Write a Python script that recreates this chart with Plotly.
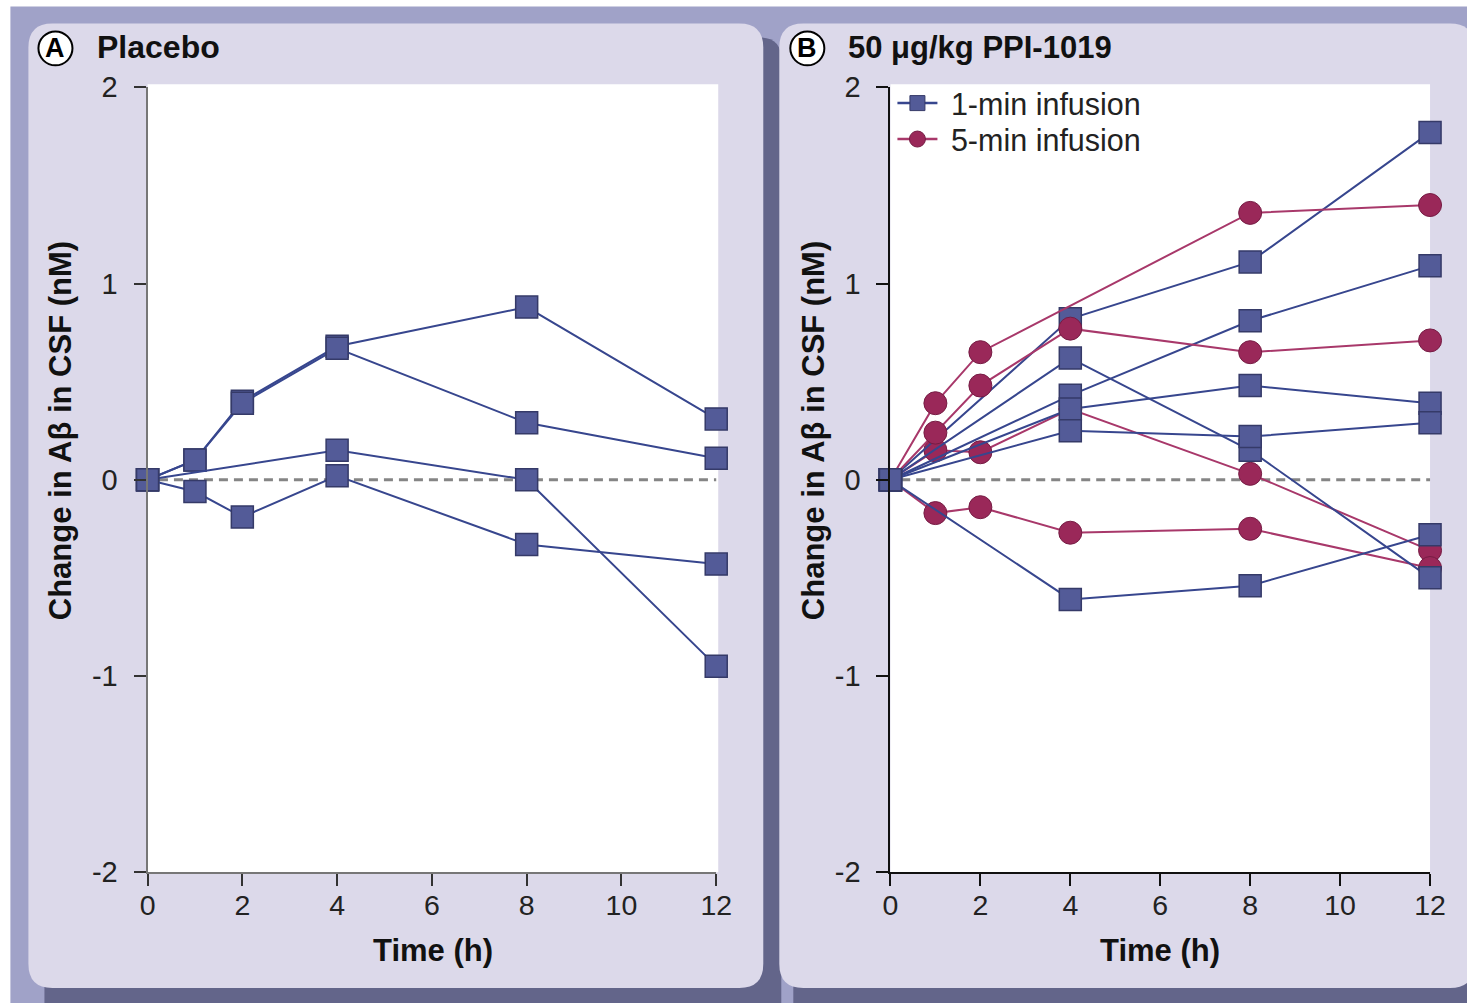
import plotly.graph_objects as go

# ---------------- data ----------------
times = [0, 1, 2, 4, 8, 12]
time_ticks = [0, 2, 4, 6, 8, 10, 12]
y_ticks = [-2, -1, 0, 1, 2]

placebo_1 = [0, 0.10, 0.40, 0.68, 0.88, 0.31]
placebo_2 = [0, 0.10, 0.39, 0.67, 0.29, 0.11]
placebo_3 = [0, None, None, 0.15, 0.00, -0.95]
placebo_4 = [0, -0.06, -0.19, 0.02, -0.33, -0.43]

min1_a = [0, None, None, 0.82, 1.11, 1.77]
min1_b = [0, None, None, 0.62, 0.15, -0.50]
min1_c = [0, None, None, 0.43, 0.81, 1.09]
min1_d = [0, None, None, 0.36, 0.48, 0.39]
min1_e = [0, None, None, 0.25, 0.22, 0.29]
min1_f = [0, None, None, -0.61, -0.54, -0.28]

min5_a = [0, 0.39, 0.65, None, 1.36, 1.40]
min5_b = [0, 0.24, 0.48, 0.77, 0.65, 0.71]
min5_c = [0, 0.15, 0.14, 0.36, 0.03, -0.36]
min5_d = [0, -0.17, -0.14, -0.27, -0.25, -0.45]

placebo_series = [placebo_1, placebo_2, placebo_3, placebo_4]
min1_series = [min1_a, min1_b, min1_c, min1_d, min1_e, min1_f]
min5_series = [min5_a, min5_b, min5_c, min5_d]

# ---------------- styling ----------------
W, H = 1467, 1003
FONT = "Liberation Sans, Arial, Helvetica, sans-serif"
BLUE_LINE = "#37468e"
BLUE_FILL = "#535b98"
BLUE_EDGE = "#353a68"
RED_LINE = "#a8386a"
RED_FILL = "#9a2859"
RED_EDGE = "#761c44"
PANEL = "#dcd9ea"
FRAME = "#a0a2c8"
SHADOW = "#63658a"

# layout positions are given in photographed-page pixels; the photographed page
# shows the figure slightly shrunk and offset, so convert to figure pixels
SX, OX = 0.9825, 7.6
SY, OY = 0.9695, 14.6


def px(X):
    return (X - OX) / SX / W


def py(Y):
    return 1 - (Y - OY) / SY / H


def P(X, Y):
    return f"{px(X):.5f},{py(Y):.5f}"


def rrect(x0, y0, x1, y1, r):
    return (f"M {P(x0 + r, y0)} L {P(x1 - r, y0)} Q {P(x1, y0)} {P(x1, y0 + r)} "
            f"L {P(x1, y1 - r)} Q {P(x1, y1)} {P(x1 - r, y1)} "
            f"L {P(x0 + r, y1)} Q {P(x0, y1)} {P(x0, y1 - r)} "
            f"L {P(x0, y0 + r)} Q {P(x0, y0)} {P(x0 + r, y0)} Z")


fig = go.Figure()

blue_marker = dict(symbol="square", size=22, color=BLUE_FILL, opacity=1,
                   line=dict(color=BLUE_EDGE, width=1.5))


def red_marker(ys):
    sizes = [0 if i == 0 else 23 for i in range(len(ys))]
    return dict(symbol="circle", size=sizes, color=RED_FILL, opacity=1,
                line=dict(color=RED_EDGE, width=1))


for ys in placebo_series:
    fig.add_trace(go.Scatter(x=times, y=ys, mode="lines+markers", connectgaps=True,
                             line=dict(color=BLUE_LINE, width=2), marker=blue_marker,
                             showlegend=False, cliponaxis=False, xaxis="x", yaxis="y"))

order_b = [("r", min5_c), ("r", min5_d)] + [("b", s) for s in min1_series] + [("r", min5_a), ("r", min5_b)]
for kind, ys in order_b:
    if kind == "b":
        fig.add_trace(go.Scatter(x=times, y=ys, mode="lines+markers", connectgaps=True,
                                 line=dict(color=BLUE_LINE, width=2), marker=blue_marker,
                                 showlegend=False, cliponaxis=False, xaxis="x2", yaxis="y2"))
    else:
        fig.add_trace(go.Scatter(x=times, y=ys, mode="lines+markers", connectgaps=True,
                                 line=dict(color=RED_LINE, width=2), marker=red_marker(ys),
                                 showlegend=False, cliponaxis=False, xaxis="x2", yaxis="y2"))

fig.add_trace(go.Scatter(x=[times[0]], y=[min1_a[0]], mode="markers", marker=blue_marker,
                         showlegend=False, cliponaxis=False, xaxis="x2", yaxis="y2"))

fig.add_trace(go.Scatter(x=[None], y=[None], mode="lines+markers", name="\u00a01-min infusion",
                         line=dict(color=BLUE_LINE, width=2.5), legend="legend",
                         marker=dict(symbol="square", size=15, color=BLUE_FILL,
                                     line=dict(color=BLUE_EDGE, width=1)),
                         xaxis="x2", yaxis="y2"))
fig.add_trace(go.Scatter(x=[None], y=[None], mode="lines+markers", name="\u00a05-min infusion",
                         line=dict(color=RED_LINE, width=2.5), legend="legend2",
                         marker=dict(symbol="circle", size=16, color=RED_FILL,
                                     line=dict(color=RED_EDGE, width=1)),
                         xaxis="x2", yaxis="y2"))

# ---------------- background shapes ----------------
shapes = []
shapes.append(dict(type="rect", xref="paper", yref="paper", x0=px(10), x1=px(1480), y0=py(1015), y1=py(5),
                   fillcolor=FRAME, line=dict(width=0), layer="below"))
# shadows
shapes.append(dict(type="path", xref="paper", yref="paper", path=rrect(44, 36, 780, 1030, 22),
                   fillcolor=SHADOW, line=dict(width=0), layer="below"))
shapes.append(dict(type="path", xref="paper", yref="paper", path=rrect(792, 36, 1500, 1030, 22),
                   fillcolor=SHADOW, line=dict(width=0), layer="below"))
# panels
shapes.append(dict(type="path", xref="paper", yref="paper", path=rrect(28, 22, 762, 988, 24),
                   fillcolor=PANEL, line=dict(width=0), layer="below"))
shapes.append(dict(type="path", xref="paper", yref="paper", path=rrect(778, 22, 1472, 988, 24),
                   fillcolor=PANEL, line=dict(width=0), layer="below"))
# white plot areas
shapes.append(dict(type="rect", xref="paper", yref="paper", x0=px(147), x1=px(717), y0=py(872), y1=py(83),
                   fillcolor="white", line=dict(width=0), layer="below"))
shapes.append(dict(type="rect", xref="paper", yref="paper", x0=px(889), x1=px(1428), y0=py(872), y1=py(83),
                   fillcolor="white", line=dict(width=0), layer="below"))
for xr, yr in (("x", "y"), ("x2", "y2")):
    shapes.append(dict(type="line", xref=f"{xr} domain", yref=yr, x0=0.02, x1=1, y0=0, y1=0,
                       line=dict(color="#858585", width=3, dash="9px,6px"), layer="below"))
for cx in (55, 806):
    shapes.append(dict(type="circle", xref="paper", yref="paper",
                       x0=px(cx - 17), x1=px(cx + 17), y0=py(47 + 17), y1=py(47 - 17),
                       fillcolor="white", line=dict(color="black", width=2)))

annotations = []
for cx, letter in ((55, "A"), (806, "B")):
    annotations.append(dict(x=px(cx), y=py(47), xref="paper", yref="paper", text=f"<b>{letter}</b>",
                            showarrow=False, font=dict(size=27, color="black", family=FONT),
                            xanchor="center", yanchor="middle"))
annotations.append(dict(x=px(94), y=py(46), xref="paper", yref="paper", text="<b>Placebo</b>",
                        showarrow=False, font=dict(size=32, color="#111", family=FONT),
                        xanchor="left", yanchor="middle"))
annotations.append(dict(x=px(845), y=py(46), xref="paper", yref="paper", text="<b>50 μg/kg PPI-1019</b>",
                        showarrow=False, font=dict(size=31, color="#111", family=FONT),
                        xanchor="left", yanchor="middle"))
for cx in (432, 1158):
    annotations.append(dict(x=px(cx), y=py(950), xref="paper", yref="paper", text="<b>Time (h)</b>",
                            showarrow=False, font=dict(size=31, color="#111", family=FONT),
                            xanchor="center", yanchor="middle"))
for cx in (60, 812):
    annotations.append(dict(x=px(cx), y=py(430), xref="paper", yref="paper",
                            text="<b>Change in Aβ in CSF (nM)</b>", textangle=-90,
                            showarrow=False, font=dict(size=31, color="#111", family=FONT),
                            xanchor="center", yanchor="middle"))

axis_common = dict(showgrid=False, zeroline=False, ticks="outside", ticklen=12, tickwidth=2,
                   showline=True, linewidth=2)
xtickfont = dict(size=28.5, color="#222", family=FONT)
ytickfont = dict(size=29, color="#222", family=FONT)
y_ticktext = [str(v) for v in y_ticks]
legend_common = dict(xanchor="left", yanchor="middle", bgcolor="rgba(0,0,0,0)",
                     font=dict(size=30.5, color="#222", family=FONT), itemwidth=40)

fig.update_layout(
    width=W, height=H,
    margin=dict(l=0, r=0, t=0, b=0),
    paper_bgcolor="white", plot_bgcolor="rgba(0,0,0,0)",
    font=dict(family=FONT, color="#222"),
    shapes=shapes, annotations=annotations,
    showlegend=True,
    legend=dict(x=px(891), y=py(102), **legend_common),
    legend2=dict(x=px(891), y=py(138), **legend_common),
    xaxis=dict(domain=[px(147), px(715)], range=[0, 12], tickvals=time_ticks, anchor="y",
               linecolor="#777", tickcolor="#333", ticklabelstandoff=-5, tickfont=xtickfont,
               **axis_common),
    yaxis=dict(domain=[py(872), py(86)], range=[-2, 2], tickvals=y_ticks, ticktext=y_ticktext,
               anchor="x", linecolor="#777", tickcolor="#333", ticklabelstandoff=10, tickfont=ytickfont,
               **axis_common),
    xaxis2=dict(domain=[px(889), px(1428)], range=[0, 12], tickvals=time_ticks, anchor="y2",
                linecolor="#111", tickcolor="#111", ticklabelstandoff=-5, tickfont=xtickfont,
                **axis_common),
    yaxis2=dict(domain=[py(872), py(86)], range=[-2, 2], tickvals=y_ticks, ticktext=y_ticktext,
                anchor="x2", linecolor="#111", tickcolor="#111", ticklabelstandoff=10, tickfont=ytickfont,
                **axis_common),
)

fig.write_html("out.html", config={"displayModeBar": False},
               post_script=("document.documentElement.style.margin='0px';"
                            "document.body.style.margin='0px';document.body.style.padding='0px';"
                            "document.body.style.overflow='hidden';"))
